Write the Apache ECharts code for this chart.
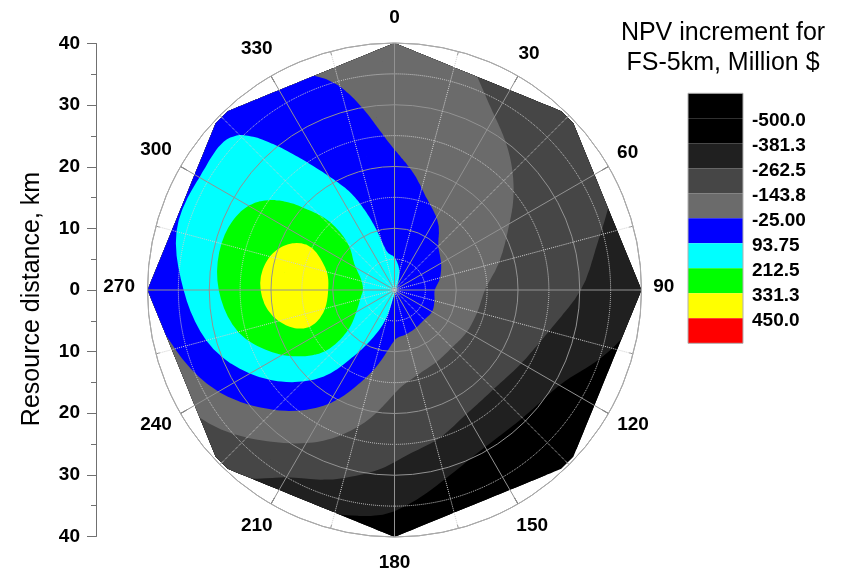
<!DOCTYPE html>
<html>
<head>
<meta charset="utf-8">
<title>NPV increment for FS-5km</title>
<script src="https://cdn.jsdelivr.net/npm/echarts@6.0.0/dist/echarts.min.js"></script>
<style>
html, body { margin: 0; padding: 0; background: #ffffff; }
#chart { width: 845px; height: 574px; }
</style>
</head>
<body>
<div id="chart"></div>
<script>
// ---- Sampling lattice of the NPV field ------------------------------------
// distance rings (km) and bearing spokes (deg)
const ringKm = [5, 10, 15, 20, 25, 30, 35, 40];
const spokeDeg = [0, 15, 30, 45, 60, 75, 90, 105, 120, 135, 150, 165,
                  180, 195, 210, 225, 240, 255, 270, 285, 300, 315, 330, 345];
// NPV increment at the site itself (0 km), Million $
const npvAtSite = 100;
// NPV increment (Million $) along each spoke, one value per ring in ringKm
const npvBySpoke = [
  [95, 65, 29, -8, -38, -63, -88, -113],          // 0
  [84, 37, -11, -42, -66, -91, -115, -139],       // 15
  [70, 10, -37, -68, -98, -129, -159, -189],      // 30
  [54, -25, -60, -96, -131, -161, -186, -212],    // 45
  [34, -43, -88, -133, -166, -195, -225, -254],   // 60
  [18, -61, -120, -164, -198, -232, -266, -300],  // 75
  [1, -79, -148, -186, -224, -261, -307, -354],   // 90
  [7, -85, -158, -206, -253, -308, -364, -421],   // 105
  [15, -84, -165, -219, -280, -369, -433, -493],  // 120
  [12, -91, -170, -226, -298, -393, -453, -513],  // 135
  [15, -84, -166, -221, -290, -393, -453, -513],  // 150
  [20, -73, -154, -205, -257, -355, -426, -486],  // 165
  [28, -55, -123, -179, -229, -290, -370, -433],  // 180
  [87, 21, -44, -106, -171, -240, -321, -440],    // 195
  [140, 110, 52, -7, -83, -168, -262, -322],      // 210
  [160, 195, 185, 110, 21, -73, -165, -247],      // 225
  [180, 250, 290, 230, 135, 34, -68, -176],       // 240
  [197, 300, 375, 323, 237, 129, 15, -95],        // 255
  [210, 317, 395, 354, 277, 182, 77, -8],         // 270
  [202, 305, 385, 342, 274, 197, 118, 40],        // 285
  [180, 250, 315, 290, 238, 180, 113, 48],        // 300
  [153, 208, 222, 192, 160, 128, 97, 65],         // 315
  [130, 150, 135, 102, 70, 40, 10, -15],          // 330
  [100, 89, 66, 43, 18, -6, -29, -52]             // 345
];
// Surveyed area outline, [distance km, bearing deg]; the diagonal corners are trimmed
const outlineKm = [40, 39.6, 39.6, 40, 39.6, 39.6, 40, 39.6, 39.6, 40, 39.6, 39.6];
const outlineDeg = [0, 43, 47, 90, 133, 137, 180, 223, 227, 270, 313, 317];

// ---- Contour levels and colour scale --------------------------------------
const contourLevels = [-500, -381.3, -262.5, -143.8, -25, 93.75, 212.5, 331.3, 450];
const levelLabels = ['-500.0', '-381.3', '-262.5', '-143.8', '-25.00', '93.75', '212.5', '331.3', '450.0'];
const bandColors = ['#000000', '#000000', '#202020', '#464646', '#6b6b6b',
                    '#0000ff', '#00ffff', '#00ff00', '#ffff00', '#ff0000'];

// ---- Axis labels -----------------------------------------------------------
const bearingLabels = [0, 30, 60, 90, 120, 150, 180, 210, 240, 270, 300, 330];

const FONT = '"Liberation Sans", Arial, Helvetica, sans-serif';

// ---- Field interpolation ----------------------------------------------------
const ringStep = ringKm[1] - ringKm[0];
const spokeStep = spokeDeg[1] - spokeDeg[0];
const nSpoke = spokeDeg.length;
const nRing = ringKm.length;

function nodeValue(ri, sj) {
  if (ri < 0) { ri = -ri; sj += nSpoke / 2; }      // through the site onto the opposite spoke
  sj = ((sj % nSpoke) + nSpoke) % nSpoke;
  if (ri === 0) return npvAtSite;
  const row = npvBySpoke[sj];
  if (ri > nRing) return 2 * row[nRing - 1] - row[nRing - 2];
  return row[ri - 1];
}
function catmull(p0, p1, p2, p3, t) {
  const t2 = t * t, t3 = t2 * t;
  return 0.5 * (2 * p1 + (-p0 + p2) * t + (2 * p0 - 5 * p1 + 4 * p2 - p3) * t2 +
                (-p0 + 3 * p1 - 3 * p2 + p3) * t3);
}
function npvAt(r, deg) {
  const fr = r / ringStep;
  let i = Math.floor(fr);
  if (i > nRing - 1) i = nRing - 1;
  const u = fr - i;
  const ft = deg / spokeStep;
  const j = Math.floor(ft);
  const w = ft - j;
  const along = k => catmull(nodeValue(i - 1, k), nodeValue(i, k), nodeValue(i + 1, k), nodeValue(i + 2, k), u);
  return catmull(along(j - 1), along(j), along(j + 1), along(j + 2), w);
}

// Keep the part of a polygon (points [x, y, v]) where f(point) >= 0
function clipPoly(poly, f) {
  const out = [];
  const n = poly.length;
  for (let i = 0; i < n; i++) {
    const a = poly[i], b = poly[(i + 1) % n];
    const da = f(a), db = f(b);
    if (da >= 0) out.push(a);
    if ((da >= 0) !== (db >= 0)) {
      const t = da / (da - db);
      out.push([a[0] + (b[0] - a[0]) * t, a[1] + (b[1] - a[1]) * t, a[2] + (b[2] - a[2]) * t]);
    }
  }
  return out;
}

// A filled shape made of many polygons, one per colour band
const BandFill = echarts.graphic.extendShape({
  type: 'bandFill',
  shape: { polys: [] },
  buildPath: function (ctx, shape) {
    const polys = shape.polys;
    for (let n = 0; n < polys.length; n++) {
      const p = polys[n];
      ctx.moveTo(p[0], p[1]);
      for (let i = 2; i < p.length; i += 2) ctx.lineTo(p[i], p[i + 1]);
      ctx.closePath();
    }
  }
});
echarts.graphic.registerShape('bandFill', BandFill);

function renderContours(params, api) {
  const rMax = ringKm[nRing - 1];
  const NR = 40, NT = 120;
  const lattice = [];
  for (let i = 0; i <= NR; i++) {
    const r = rMax * i / NR;
    const row = [];
    for (let j = 0; j <= NT; j++) {
      const a = 360 * j / NT;
      const p = api.coord([r, a]);
      row.push([p[0], p[1], npvAt(r, a % 360)]);
    }
    lattice.push(row);
  }
  const c = api.coord([0, 0]);
  const hull = outlineDeg.map((a, k) => api.coord([outlineKm[k], a]));
  const edges = hull.map((A, k) => {
    const B = hull[(k + 1) % hull.length];
    const ex = B[0] - A[0], ey = B[1] - A[1];
    const s = Math.sign(ex * (c[1] - A[1]) - ey * (c[0] - A[0]));
    return p => s * (ex * (p[1] - A[1]) - ey * (p[0] - A[0]));
  });
  const inHull = p => edges.every(f => f(p) >= 0);
  const layers = bandColors.map(() => []);
  const addPoly = (k, poly) => {
    const flat = [];
    for (const q of poly) flat.push(q[0], q[1]);
    layers[k].push(flat);
  };
  const handleTri = tri => {
    let poly = tri;
    if (!tri.every(inHull)) {
      for (const f of edges) {
        poly = clipPoly(poly, f);
        if (poly.length < 3) return;
      }
    }
    addPoly(0, poly);
    let vmin = Infinity, vmax = -Infinity;
    for (const q of poly) { if (q[2] < vmin) vmin = q[2]; if (q[2] > vmax) vmax = q[2]; }
    for (let k = 0; k < contourLevels.length; k++) {
      const L = contourLevels[k];
      if (vmax < L) break;
      if (vmin >= L) addPoly(k + 1, poly);
      else {
        const part = clipPoly(poly, q => q[2] - L);
        if (part.length >= 3) addPoly(k + 1, part);
      }
    }
  };
  for (let i = 0; i < NR; i++) {
    for (let j = 0; j < NT; j++) {
      const a = lattice[i][j], b = lattice[i + 1][j], d = lattice[i + 1][j + 1], e = lattice[i][j + 1];
      if (i === 0) handleTri([a, b, d]);
      else { handleTri([a, b, d]); handleTri([a, d, e]); }
    }
  }
  return {
    type: 'group',
    children: layers.map((polys, k) => ({
      type: 'bandFill',
      shape: { polys: polys },
      style: { fill: bandColors[k] },
      silent: true
    }))
  };
}

function renderBearingLabel(params, api) {
  const p = api.coord([api.value(0), api.value(1)]);
  return {
    type: 'text',
    x: p[0], y: p[1] - 3,
    style: {
      text: String(bearingLabels[params.dataIndex]),
      align: 'center', verticalAlign: 'middle',
      font: 'bold 19px ' + FONT,
      fill: '#000000'
    },
    silent: true
  };
}

// ---- Colour bar ---------------------------------------------------------------
const barX = 688, barW = 55, barTop = 93.3, boxH = 25, labelX = 752;
const colorBar = bandColors.map((col, k) => ({
  type: 'rect',
  shape: { x: barX, y: barTop + k * boxH, width: barW, height: boxH },
  style: { fill: col }
}));
const colorBarFrame = {
  type: 'rect',
  shape: { x: barX, y: barTop, width: barW, height: boxH * bandColors.length },
  style: { fill: 'none', stroke: '#b0b0b0', lineWidth: 1 }
};
const colorBarLabels = levelLabels.map((t, k) => ({
  type: 'text',
  x: labelX, y: barTop + (k + 1) * boxH + 2.5,
  style: {
    text: t, font: 'bold 19px ' + FONT, fill: '#000000',
    align: 'left', verticalAlign: 'middle', textAlign: 'left', textVerticalAlign: 'middle'
  }
}));
const barTitle = {
  type: 'text',
  x: 723, y: 48,
  style: {
    text: 'NPV increment for\nFS-5km, Million $',
    font: '25px ' + FONT, fill: '#000000', lineHeight: 30,
    align: 'center', verticalAlign: 'middle', textAlign: 'center', textVerticalAlign: 'middle'
  }
};
const distanceTitle = {
  type: 'text',
  x: 32, y: 299, rotation: Math.PI / 2,
  style: {
    text: 'Resource distance, km',
    font: '25px ' + FONT, fill: '#000000',
    align: 'center', verticalAlign: 'middle', textAlign: 'center', textVerticalAlign: 'middle'
  }
};

const chart = echarts.init(document.getElementById('chart'), null, { renderer: 'canvas' });
chart.setOption({
  animation: false,
  backgroundColor: '#ffffff',
  polar: { center: [394.5, 290], radius: 247 },
  angleAxis: {
    type: 'value', min: 0, max: 360, interval: 30,
    startAngle: 90, clockwise: true, z: 5,
    axisLine: { show: true, lineStyle: { color: '#ababab', width: 1 } },
    axisTick: { show: true, inside: true, length: 7, lineStyle: { color: '#333333', width: 1 } },
    minorTick: { show: true, splitNumber: 2, length: 4, lineStyle: { color: '#8a8a8a', width: 1 } },
    axisLabel: { show: false },
    splitLine: { show: true, lineStyle: { color: '#929292', width: 1 } },
    minorSplitLine: { show: true, lineStyle: { color: '#d0d0d0', width: 1, type: 'dotted' } }
  },
  radiusAxis: {
    type: 'value', min: 0, max: 40, interval: 10, z: 5,
    axisLine: { show: false }, axisTick: { show: false }, axisLabel: { show: false },
    minorTick: { show: false, splitNumber: 2 },
    splitLine: { show: true, lineStyle: { color: '#929292', width: 1 } },
    minorSplitLine: { show: true, lineStyle: { color: '#d0d0d0', width: 1, type: 'dotted' } }
  },
  grid: { left: 96, top: 43.5, width: 1, height: 493, outerBoundsMode: 'none', containLabel: false },
  xAxis: { type: 'value', min: 0, max: 1, show: false },
  yAxis: {
    type: 'value', min: -40, max: 40, interval: 10,
    axisLine: { show: true, lineStyle: { color: '#707070', width: 1 } },
    axisTick: { show: true, length: 9, lineStyle: { color: '#707070' } },
    minorTick: { show: true, splitNumber: 2, length: 5, lineStyle: { color: '#707070' } },
    splitLine: { show: false },
    axisLabel: {
      margin: 16, color: '#000000', fontSize: 19, fontWeight: 'bold', fontFamily: FONT,
      formatter: v => String(Math.abs(v))
    }
  },
  series: [
    {
      type: 'custom', coordinateSystem: 'polar', z: 1, silent: true,
      data: [[0, 0]],
      renderItem: renderContours
    },
    {
      type: 'custom', coordinateSystem: 'polar', z: 10, silent: true,
      // label anchors sit just outside the 40 km ring; three-digit labels a little further out
      data: bearingLabels.map(a => [String(a).length > 2 ? 44.6 : 43.6, a]),
      renderItem: renderBearingLabel
    }
  ],
  graphic: [].concat(colorBar, [colorBarFrame], colorBarLabels, [barTitle, distanceTitle])
});
</script>
</body>
</html>
